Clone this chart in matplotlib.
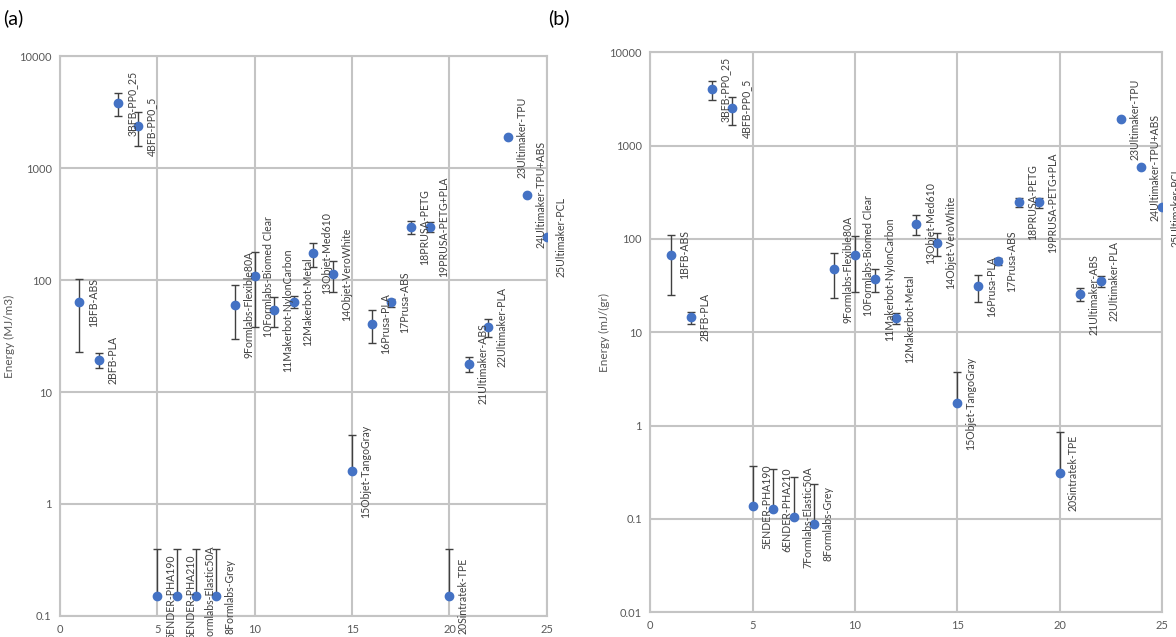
# энергия печати по 25 образцам: (a) MJ/m3, (b) mJ/gr

import matplotlib.pyplot as plt
import matplotlib.ticker as mticker
import numpy as np

plt.rcParams['font.family'] = ['Lato', 'DejaVu Sans']

# подписи точек
names = ['1BFB-ABS', '2BFB-PLA', '3BFB-PP0_25', '4BFB-PP0_5', '5ENDER-PHA190',
         '6ENDER-PHA210', '7Formlabs-Elastic50A', '8Formlabs-Grey',
         '9Formlabs-Flexible80A', '10Formlabs-Biomed Clear', '11Makerbot-NylonCarbon',
         '12Makerbot-Metal', '13Objet-Med610', '14Objet-VeroWhite', '15Objet-TangoGray',
         '16Prusa-PLA', '17Prusa-ABS', '18PRUSA-PETG', '19PRUSA-PETG+PLA',
         '20Sintratek-TPE', '21Ultimaker-ABS', '22Ultimaker-PLA', '23Ultimaker-TPU',
         '24Ultimaker-TPU+ABS', '25Ultimaker-PCL']
x = np.arange(1, 26)

# (a) Energy (MJ/m3)
energy_vol = [63, 19.3, 3800, 2370, 0.15, 0.15, 0.15, 0.15, 60, 108, 54, 64, 174, 113,
              1.97, 40.5, 63, 297, 300, 0.15, 17.8, 38, 1880, 575, 240]
err_vol = [40, 3, 900, 800, 0.25, 0.25, 0.25, 0.25, 30, 70, 16, 8, 42, 35,
           2.2, 13, 5, 40, 30, 0.25, 2.7, 7, 0, 0, 0]

# (b) Energy (mJ/gr)
energy_mass = [68, 14.4, 4000, 2500, 0.136, 0.126, 0.104, 0.089, 47, 66.7, 37, 14.1, 146, 91,
               1.73, 31, 57.6, 246, 246, 0.31, 25.4, 35.2, 1910, 586, 218]
err_mass = [43, 2.2, 900, 820, 0.23, 0.22, 0.175, 0.15, 24, 40, 10, 2, 36, 25,
            2, 10, 5, 28, 30, 0.54, 4, 5, 0, 0, 0]

fig = plt.figure(figsize=(11.76, 6.37), dpi=100)

grid_c = '#C4C4C4'
tick_c = '#595959'


def draw_panel(rect, y, err, ymin, ylabel, label_x, tag, tag_x):
    ax = fig.add_axes(rect)
    y = np.array(y, dtype=float)
    err = np.array(err, dtype=float)
    # на логарифмической шкале нижний ус не рисуется, если уходит в минус
    lower = np.where(err < y, err, 0)
    ax.errorbar(x, y, yerr=[lower, err], fmt='none', ecolor='#404040',
                elinewidth=1, capsize=3, capthick=1, zorder=2)
    ax.plot(x, y, 'o', color='#4472C4', markersize=6, zorder=3)
    for xi, yi, name in zip(x, y, names):
        ax.annotate(name, (xi, yi), xytext=(10, 0), textcoords='offset points',
                    rotation=90, ha='center', va='center', fontsize=7.6,
                    color='#404040', annotation_clip=False, zorder=4)
    ax.set_yscale('log')
    ax.set_xlim(0, 25)
    ax.set_ylim(ymin, 10000)
    ax.xaxis.set_major_locator(mticker.MultipleLocator(5))
    ax.yaxis.set_major_locator(mticker.LogLocator(base=10, numticks=10))
    ax.yaxis.set_minor_locator(mticker.NullLocator())
    ax.yaxis.set_major_formatter(mticker.FuncFormatter(lambda v, p: '%g' % v))
    ax.grid(True, color=grid_c, linewidth=1.5)
    ax.set_axisbelow(True)
    for s in ax.spines.values():
        s.set_color(grid_c)
        s.set_linewidth(1.5)
    ax.tick_params(length=0, labelsize=8, colors=tick_c, pad=6)
    ax.set_ylabel(ylabel, fontsize=8.5, color=tick_c)
    ax.yaxis.set_label_coords(label_x, 0.5)
    fig.text(tag_x, 0.972, tag, fontsize=14, va='center', ha='left')
    return ax


draw_panel([0.051, 0.033, 0.414, 0.879], energy_vol, err_vol, 0.1,
           'Energy (MJ/m3)', -0.092, '(a)', 0.003)
draw_panel([0.553, 0.039, 0.435, 0.879], energy_mass, err_mass, 0.01,
           'Energy (mJ/(gr)', -0.078, '(b)', 0.466)

plt.savefig('out.png', dpi=100)
